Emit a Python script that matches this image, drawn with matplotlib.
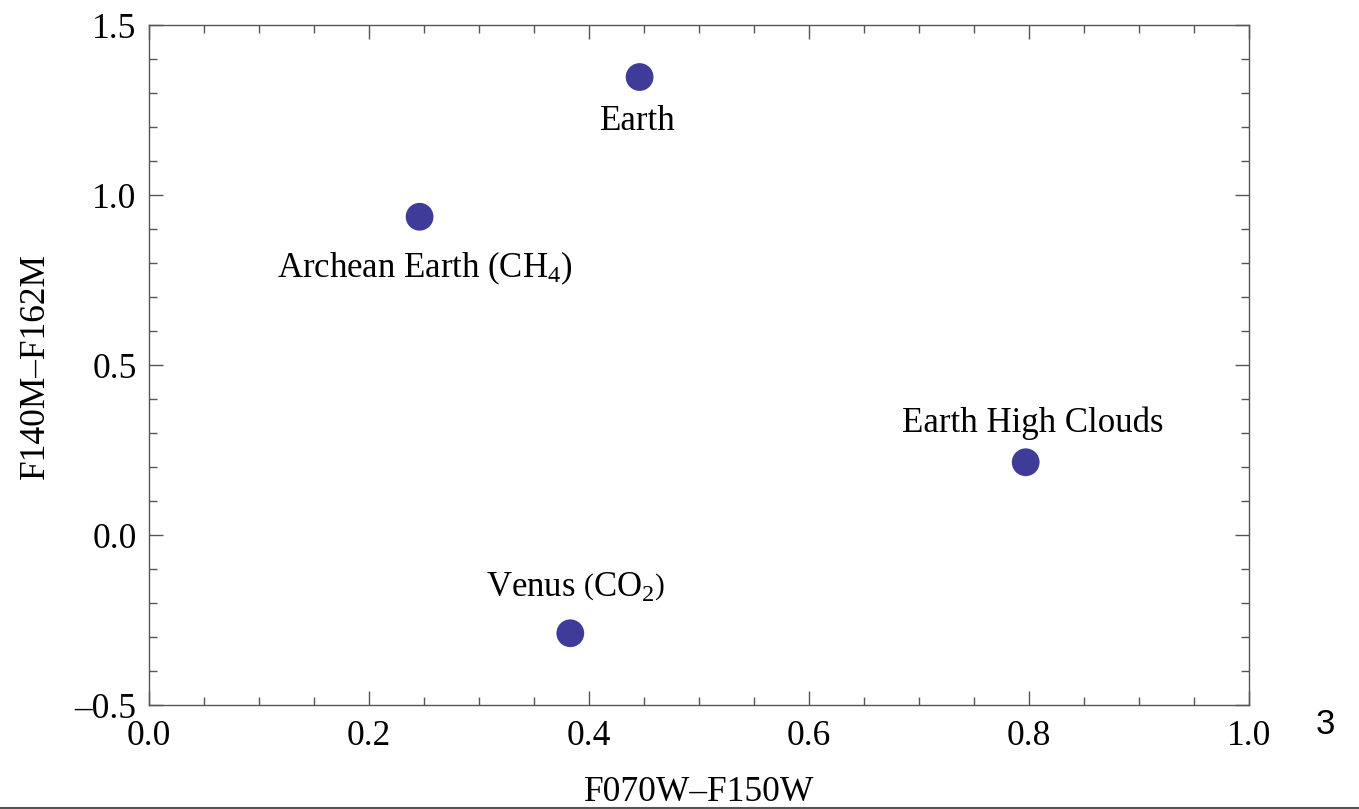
import matplotlib
matplotlib.use("Agg")
import matplotlib.pyplot as plt
from matplotlib.lines import Line2D
from matplotlib.ticker import MultipleLocator

plt.rcParams['font.family'] = ['Liberation Serif', 'DejaVu Serif']
plt.rcParams['mathtext.fontset'] = 'custom'
plt.rcParams['mathtext.rm'] = 'Liberation Serif'
plt.rcParams['mathtext.it'] = 'Liberation Serif:italic'

names = ["Earth", "Archean Earth (CH$_4$)", "Earth High Clouds", "Venus $\\left(\\mathrm{CO}_2\\right)$"]
color_x = [0.446, 0.246, 0.797, 0.383]   # F070W-F150W
color_y = [1.347, 0.936, 0.214, -0.289]  # F140M-F162M
# label offsets in points (dx, dy)
offsets = [(-1.5, -32), (3.5, -37), (5, 28), (4, 32)]

fig = plt.figure(figsize=(13.59, 8.09), dpi=100)
ax = fig.add_axes([149 / 1359, 1 - 705 / 809, 1100 / 1359, 680 / 809])

ax.scatter(color_x, color_y, s=400, color='#3f3b99', edgecolors='none', zorder=3)
for name, x, y, off in zip(names, color_x, color_y, offsets):
    ax.annotate(name, (x, y), xytext=off, textcoords='offset points',
                ha='center', va='center', fontsize=25)

ax.set_xlim(0, 1)
ax.set_ylim(-0.5, 1.5)
ax.xaxis.set_major_locator(MultipleLocator(0.2))
ax.xaxis.set_minor_locator(MultipleLocator(0.05))
ax.yaxis.set_major_locator(MultipleLocator(0.5))
ax.yaxis.set_minor_locator(MultipleLocator(0.1))
ax.xaxis.set_major_formatter(lambda v, pos: f"{v:.1f}")
ax.yaxis.set_major_formatter(lambda v, pos: f"{v:.1f}".replace("-", "\u2013"))

ax.tick_params(which='both', direction='in', top=True, right=True,
               color='#555555', width=1.0, labelsize=25.5)
ax.tick_params(which='major', length=10)
ax.tick_params(which='minor', length=6)
ax.tick_params(axis='x', pad=11)
ax.tick_params(axis='y', pad=9)
for s in ax.spines.values():
    s.set_color('#555555')
    s.set_linewidth(1.0)

fig.text(35 / 1359, 1 - 366 / 809, "F140M\u2013F162M", rotation=90,
         ha='center', va='center', fontsize=25.5)
fig.text(699 / 1359, 8 / 809, "F070W\u2013F150W", ha='center', va='baseline', fontsize=25.5)
fig.text(1325 / 1359, 1 - 725 / 809, "3", ha='center', va='center', fontsize=25,
         family='Liberation Sans')
fig.add_artist(Line2D([0, 1], [1.5 / 809, 1.5 / 809], color='#555555', lw=1.5,
                      transform=fig.transFigure))

fig.savefig("out.png", dpi=100)
